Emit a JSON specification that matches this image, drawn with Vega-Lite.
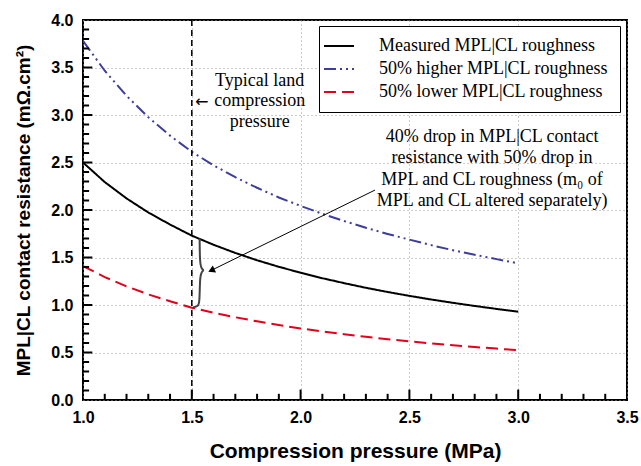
{
  "$schema": "https://vega.github.io/schema/vega-lite/v6.json",
  "width": 544,
  "height": 380,
  "autosize": {"type": "none"},
  "padding": {"left": 83, "top": 20, "right": 14, "bottom": 66},
  "background": "white",
  "config": {
    "view": {"stroke": "black", "strokeWidth": 2},
    "font": "Liberation Sans"
  },
  "datasets": {
    "curves": [
      {"x": 1.0, "y": 2.5, "s": "Measured MPL|CL roughness"},
      {"x": 1.1, "y": 2.294, "s": "Measured MPL|CL roughness"},
      {"x": 1.2, "y": 2.122, "s": "Measured MPL|CL roughness"},
      {"x": 1.3, "y": 1.974, "s": "Measured MPL|CL roughness"},
      {"x": 1.4, "y": 1.847, "s": "Measured MPL|CL roughness"},
      {"x": 1.5, "y": 1.730, "s": "Measured MPL|CL roughness"},
      {"x": 1.6, "y": 1.634, "s": "Measured MPL|CL roughness"},
      {"x": 1.7, "y": 1.548, "s": "Measured MPL|CL roughness"},
      {"x": 1.8, "y": 1.471, "s": "Measured MPL|CL roughness"},
      {"x": 1.9, "y": 1.402, "s": "Measured MPL|CL roughness"},
      {"x": 2.0, "y": 1.340, "s": "Measured MPL|CL roughness"},
      {"x": 2.1, "y": 1.282, "s": "Measured MPL|CL roughness"},
      {"x": 2.2, "y": 1.230, "s": "Measured MPL|CL roughness"},
      {"x": 2.3, "y": 1.181, "s": "Measured MPL|CL roughness"},
      {"x": 2.4, "y": 1.137, "s": "Measured MPL|CL roughness"},
      {"x": 2.5, "y": 1.096, "s": "Measured MPL|CL roughness"},
      {"x": 2.6, "y": 1.058, "s": "Measured MPL|CL roughness"},
      {"x": 2.7, "y": 1.023, "s": "Measured MPL|CL roughness"},
      {"x": 2.8, "y": 0.990, "s": "Measured MPL|CL roughness"},
      {"x": 2.9, "y": 0.959, "s": "Measured MPL|CL roughness"},
      {"x": 3.0, "y": 0.930, "s": "Measured MPL|CL roughness"},
      {"x": 1.0, "y": 3.78, "s": "50% higher MPL|CL roughness"},
      {"x": 1.1, "y": 3.466, "s": "50% higher MPL|CL roughness"},
      {"x": 1.2, "y": 3.202, "s": "50% higher MPL|CL roughness"},
      {"x": 1.3, "y": 2.977, "s": "50% higher MPL|CL roughness"},
      {"x": 1.4, "y": 2.783, "s": "50% higher MPL|CL roughness"},
      {"x": 1.5, "y": 2.613, "s": "50% higher MPL|CL roughness"},
      {"x": 1.6, "y": 2.470, "s": "50% higher MPL|CL roughness"},
      {"x": 1.7, "y": 2.345, "s": "50% higher MPL|CL roughness"},
      {"x": 1.8, "y": 2.234, "s": "50% higher MPL|CL roughness"},
      {"x": 1.9, "y": 2.132, "s": "50% higher MPL|CL roughness"},
      {"x": 2.0, "y": 2.043, "s": "50% higher MPL|CL roughness"},
      {"x": 2.1, "y": 1.960, "s": "50% higher MPL|CL roughness"},
      {"x": 2.2, "y": 1.884, "s": "50% higher MPL|CL roughness"},
      {"x": 2.3, "y": 1.813, "s": "50% higher MPL|CL roughness"},
      {"x": 2.4, "y": 1.748, "s": "50% higher MPL|CL roughness"},
      {"x": 2.5, "y": 1.688, "s": "50% higher MPL|CL roughness"},
      {"x": 2.6, "y": 1.630, "s": "50% higher MPL|CL roughness"},
      {"x": 2.7, "y": 1.577, "s": "50% higher MPL|CL roughness"},
      {"x": 2.8, "y": 1.529, "s": "50% higher MPL|CL roughness"},
      {"x": 2.9, "y": 1.483, "s": "50% higher MPL|CL roughness"},
      {"x": 3.0, "y": 1.439, "s": "50% higher MPL|CL roughness"},
      {"x": 1.0, "y": 1.41, "s": "50% lower MPL|CL roughness"},
      {"x": 1.1, "y": 1.294, "s": "50% lower MPL|CL roughness"},
      {"x": 1.2, "y": 1.196, "s": "50% lower MPL|CL roughness"},
      {"x": 1.3, "y": 1.112, "s": "50% lower MPL|CL roughness"},
      {"x": 1.4, "y": 1.040, "s": "50% lower MPL|CL roughness"},
      {"x": 1.5, "y": 0.972, "s": "50% lower MPL|CL roughness"},
      {"x": 1.6, "y": 0.919, "s": "50% lower MPL|CL roughness"},
      {"x": 1.7, "y": 0.871, "s": "50% lower MPL|CL roughness"},
      {"x": 1.8, "y": 0.828, "s": "50% lower MPL|CL roughness"},
      {"x": 1.9, "y": 0.789, "s": "50% lower MPL|CL roughness"},
      {"x": 2.0, "y": 0.753, "s": "50% lower MPL|CL roughness"},
      {"x": 2.1, "y": 0.721, "s": "50% lower MPL|CL roughness"},
      {"x": 2.2, "y": 0.692, "s": "50% lower MPL|CL roughness"},
      {"x": 2.3, "y": 0.665, "s": "50% lower MPL|CL roughness"},
      {"x": 2.4, "y": 0.640, "s": "50% lower MPL|CL roughness"},
      {"x": 2.5, "y": 0.617, "s": "50% lower MPL|CL roughness"},
      {"x": 2.6, "y": 0.596, "s": "50% lower MPL|CL roughness"},
      {"x": 2.7, "y": 0.576, "s": "50% lower MPL|CL roughness"},
      {"x": 2.8, "y": 0.558, "s": "50% lower MPL|CL roughness"},
      {"x": 2.9, "y": 0.541, "s": "50% lower MPL|CL roughness"},
      {"x": 3.0, "y": 0.525, "s": "50% lower MPL|CL roughness"}
    ],
    "brace": [
      {"i": 0, "x": 1.536, "y": 1.70},
      {"i": 1, "x": 1.537, "y": 1.44},
      {"i": 2, "x": 1.545, "y": 1.38},
      {"i": 3, "x": 1.556, "y": 1.365},
      {"i": 4, "x": 1.545, "y": 1.35},
      {"i": 5, "x": 1.537, "y": 1.29},
      {"i": 6, "x": 1.536, "y": 1.02},
      {"i": 7, "x": 1.528, "y": 0.985},
      {"i": 8, "x": 1.505, "y": 0.975}
    ],
    "connector": [
      {"i": 0, "x": 2.342, "y": 2.21},
      {"i": 1, "x": 1.59, "y": 1.365}
    ],
    "arrowhead": [
      {"x": 1.59, "y": 1.365}
    ],
    "land": [
      {"x": 1.812, "y": 3.36, "t": "Typical land"},
      {"x": 1.812, "y": 3.145, "t": "compression"},
      {"x": 1.812, "y": 2.93, "t": "pressure"}
    ],
    "note": [
      {"x": 2.88, "y": 2.765, "t": "40% drop in MPL|CL contact"},
      {"x": 2.88, "y": 2.545, "t": "resistance with 50% drop in"},
      {"x": 2.88, "y": 2.32, "t": "MPL and CL roughness (m₀ of"},
      {"x": 2.88, "y": 2.10, "t": "MPL and CL altered separately)"}
    ],
    "pressure": [{"x": 1.5}],
    "leftarrow": [{"x": 1.545, "y": 3.14, "t": "←"}],
    "xmajor": [{"v": 1.5}, {"v": 2.0}, {"v": 2.5}, {"v": 3.0}],
    "xminor": [{"v": 1.1}, {"v": 1.2}, {"v": 1.3}, {"v": 1.4}, {"v": 1.6}, {"v": 1.7}, {"v": 1.8}, {"v": 1.9}, {"v": 2.1}, {"v": 2.2}, {"v": 2.3}, {"v": 2.4}, {"v": 2.6}, {"v": 2.7}, {"v": 2.8}, {"v": 2.9}, {"v": 3.1}, {"v": 3.2}, {"v": 3.3}, {"v": 3.4}],
    "ymajor": [{"v": 0.5}, {"v": 1.0}, {"v": 1.5}, {"v": 2.0}, {"v": 2.5}, {"v": 3.0}, {"v": 3.5}],
    "yminor": [{"v": 0.1}, {"v": 0.2}, {"v": 0.3}, {"v": 0.4}, {"v": 0.6}, {"v": 0.7}, {"v": 0.8}, {"v": 0.9}, {"v": 1.1}, {"v": 1.2}, {"v": 1.3}, {"v": 1.4}, {"v": 1.6}, {"v": 1.7}, {"v": 1.8}, {"v": 1.9}, {"v": 2.1}, {"v": 2.2}, {"v": 2.3}, {"v": 2.4}, {"v": 2.6}, {"v": 2.7}, {"v": 2.8}, {"v": 2.9}, {"v": 3.1}, {"v": 3.2}, {"v": 3.3}, {"v": 3.4}, {"v": 3.6}, {"v": 3.7}, {"v": 3.8}, {"v": 3.9}]
  },
  "layer": [
    {
      "data": {"name": "curves"},
      "mark": {"type": "line", "strokeWidth": 2, "clip": true},
      "encoding": {
        "x": {
          "field": "x", "type": "quantitative",
          "scale": {"domain": [1, 3.5], "nice": false, "zero": false},
          "axis": {
            "orient": "bottom",
            "title": "Compression pressure (MPa)",
            "titleFont": "Liberation Sans", "titleFontSize": 21, "titleFontWeight": "bold", "titleColor": "black", "titlePadding": 15,
            "values": [1.0, 1.5, 2.0, 2.5, 3.0, 3.5],
            "format": ".1f",
            "labelFont": "Liberation Sans", "labelFontSize": 16, "labelFontWeight": "bold", "labelColor": "black",
            "labelPadding": 9, "labelFlush": false, "labelOverlap": false,
            "domain": false, "ticks": false, "tickSize": 0,
            "grid": true, "gridDash": [1, 3], "gridColor": "#999999", "gridWidth": 1
          }
        },
        "y": {
          "field": "y", "type": "quantitative",
          "scale": {"domain": [0, 4], "nice": false},
          "axis": {
            "orient": "left",
            "title": "MPL|CL contact resistance (mΩ.cm²)",
            "titleFont": "Liberation Sans", "titleFontSize": 19, "titleFontWeight": "bold", "titleColor": "black", "titlePadding": 17,
            "values": [0.0, 0.5, 1.0, 1.5, 2.0, 2.5, 3.0, 3.5, 4.0],
            "format": ".1f",
            "labelFont": "Liberation Sans", "labelFontSize": 16, "labelFontWeight": "bold", "labelColor": "black",
            "labelPadding": 10, "labelFlush": false, "labelOverlap": false,
            "domain": false, "ticks": false, "tickSize": 0,
            "grid": true, "gridDash": [1, 3], "gridColor": "#999999", "gridWidth": 1
          }
        },
        "color": {
          "field": "s", "type": "nominal",
          "scale": {
            "domain": ["Measured MPL|CL roughness", "50% higher MPL|CL roughness", "50% lower MPL|CL roughness"],
            "range": ["#000000", "#3d3d9c", "#e2001a"]
          },
          "legend": {
            "title": null,
            "orient": "none", "legendX": 236, "legendY": 6,
            "fillColor": "white", "strokeColor": "black",
            "padding": 11,
            "labelFont": "Liberation Serif", "labelFontSize": 18, "labelColor": "black", "labelLimit": 400,
            "labelOffset": 31,
            "symbolType": "M-3,0H3", "symbolSize": 100, "symbolStrokeWidth": 2,
            "rowPadding": 5
          }
        },
        "strokeDash": {
          "field": "s", "type": "nominal",
          "scale": {
            "domain": ["Measured MPL|CL roughness", "50% higher MPL|CL roughness", "50% lower MPL|CL roughness"],
            "range": [[1, 0], [12, 4, 2, 4, 2, 4], [12, 6]]
          },
          "legend": null
        }
      }
    },
    {
      "data": {"name": "xmajor"},
      "mark": {"type": "rule", "color": "black", "strokeWidth": 2},
      "encoding": {
        "x": {"field": "v", "type": "quantitative"},
        "y": {"datum": 0},
        "y2": {"datum": 0.11}
      }
    },
    {
      "data": {"name": "xminor"},
      "mark": {"type": "rule", "color": "black", "strokeWidth": 2},
      "encoding": {
        "x": {"field": "v", "type": "quantitative"},
        "y": {"datum": 0},
        "y2": {"datum": 0.065}
      }
    },
    {
      "data": {"name": "ymajor"},
      "mark": {"type": "rule", "color": "black", "strokeWidth": 2},
      "encoding": {
        "y": {"field": "v", "type": "quantitative"},
        "x": {"datum": 1.0},
        "x2": {"datum": 1.043}
      }
    },
    {
      "data": {"name": "yminor"},
      "mark": {"type": "rule", "color": "black", "strokeWidth": 2},
      "encoding": {
        "y": {"field": "v", "type": "quantitative"},
        "x": {"datum": 1.0},
        "x2": {"datum": 1.028}
      }
    },
    {
      "data": {"name": "brace"},
      "mark": {"type": "line", "color": "#444444", "strokeWidth": 2, "interpolate": "basis"},
      "encoding": {
        "x": {"field": "x", "type": "quantitative"},
        "y": {"field": "y", "type": "quantitative"},
        "order": {"field": "i", "type": "quantitative"}
      }
    },
    {
      "data": {"name": "connector"},
      "mark": {"type": "line", "color": "black", "strokeWidth": 1},
      "encoding": {
        "x": {"field": "x", "type": "quantitative"},
        "y": {"field": "y", "type": "quantitative"},
        "order": {"field": "i", "type": "quantitative"}
      }
    },
    {
      "data": {"name": "pressure"},
      "mark": {"type": "rule", "color": "black", "strokeWidth": 1.5, "strokeDash": [6, 4]},
      "encoding": {"x": {"field": "x", "type": "quantitative"}}
    },
    {
      "data": {"name": "arrowhead"},
      "mark": {"type": "point", "shape": "triangle-up", "filled": true, "color": "black", "size": 60, "angle": 245, "opacity": 1},
      "encoding": {
        "x": {"field": "x", "type": "quantitative"},
        "y": {"field": "y", "type": "quantitative"}
      }
    },
    {
      "data": {"name": "land"},
      "mark": {"type": "text", "font": "Liberation Serif", "fontSize": 18, "color": "black", "align": "center", "baseline": "middle"},
      "encoding": {
        "x": {"field": "x", "type": "quantitative"},
        "y": {"field": "y", "type": "quantitative"},
        "text": {"field": "t"}
      }
    },
    {
      "data": {"name": "leftarrow"},
      "mark": {"type": "text", "font": "DejaVu Sans", "fontSize": 16, "color": "black", "align": "center", "baseline": "middle"},
      "encoding": {
        "x": {"field": "x", "type": "quantitative"},
        "y": {"field": "y", "type": "quantitative"},
        "text": {"field": "t"}
      }
    },
    {
      "data": {"name": "note"},
      "mark": {"type": "text", "font": "Liberation Serif", "fontSize": 18, "color": "black", "align": "center", "baseline": "middle"},
      "encoding": {
        "x": {"field": "x", "type": "quantitative"},
        "y": {"field": "y", "type": "quantitative"},
        "text": {"field": "t"}
      }
    }
  ]
}
